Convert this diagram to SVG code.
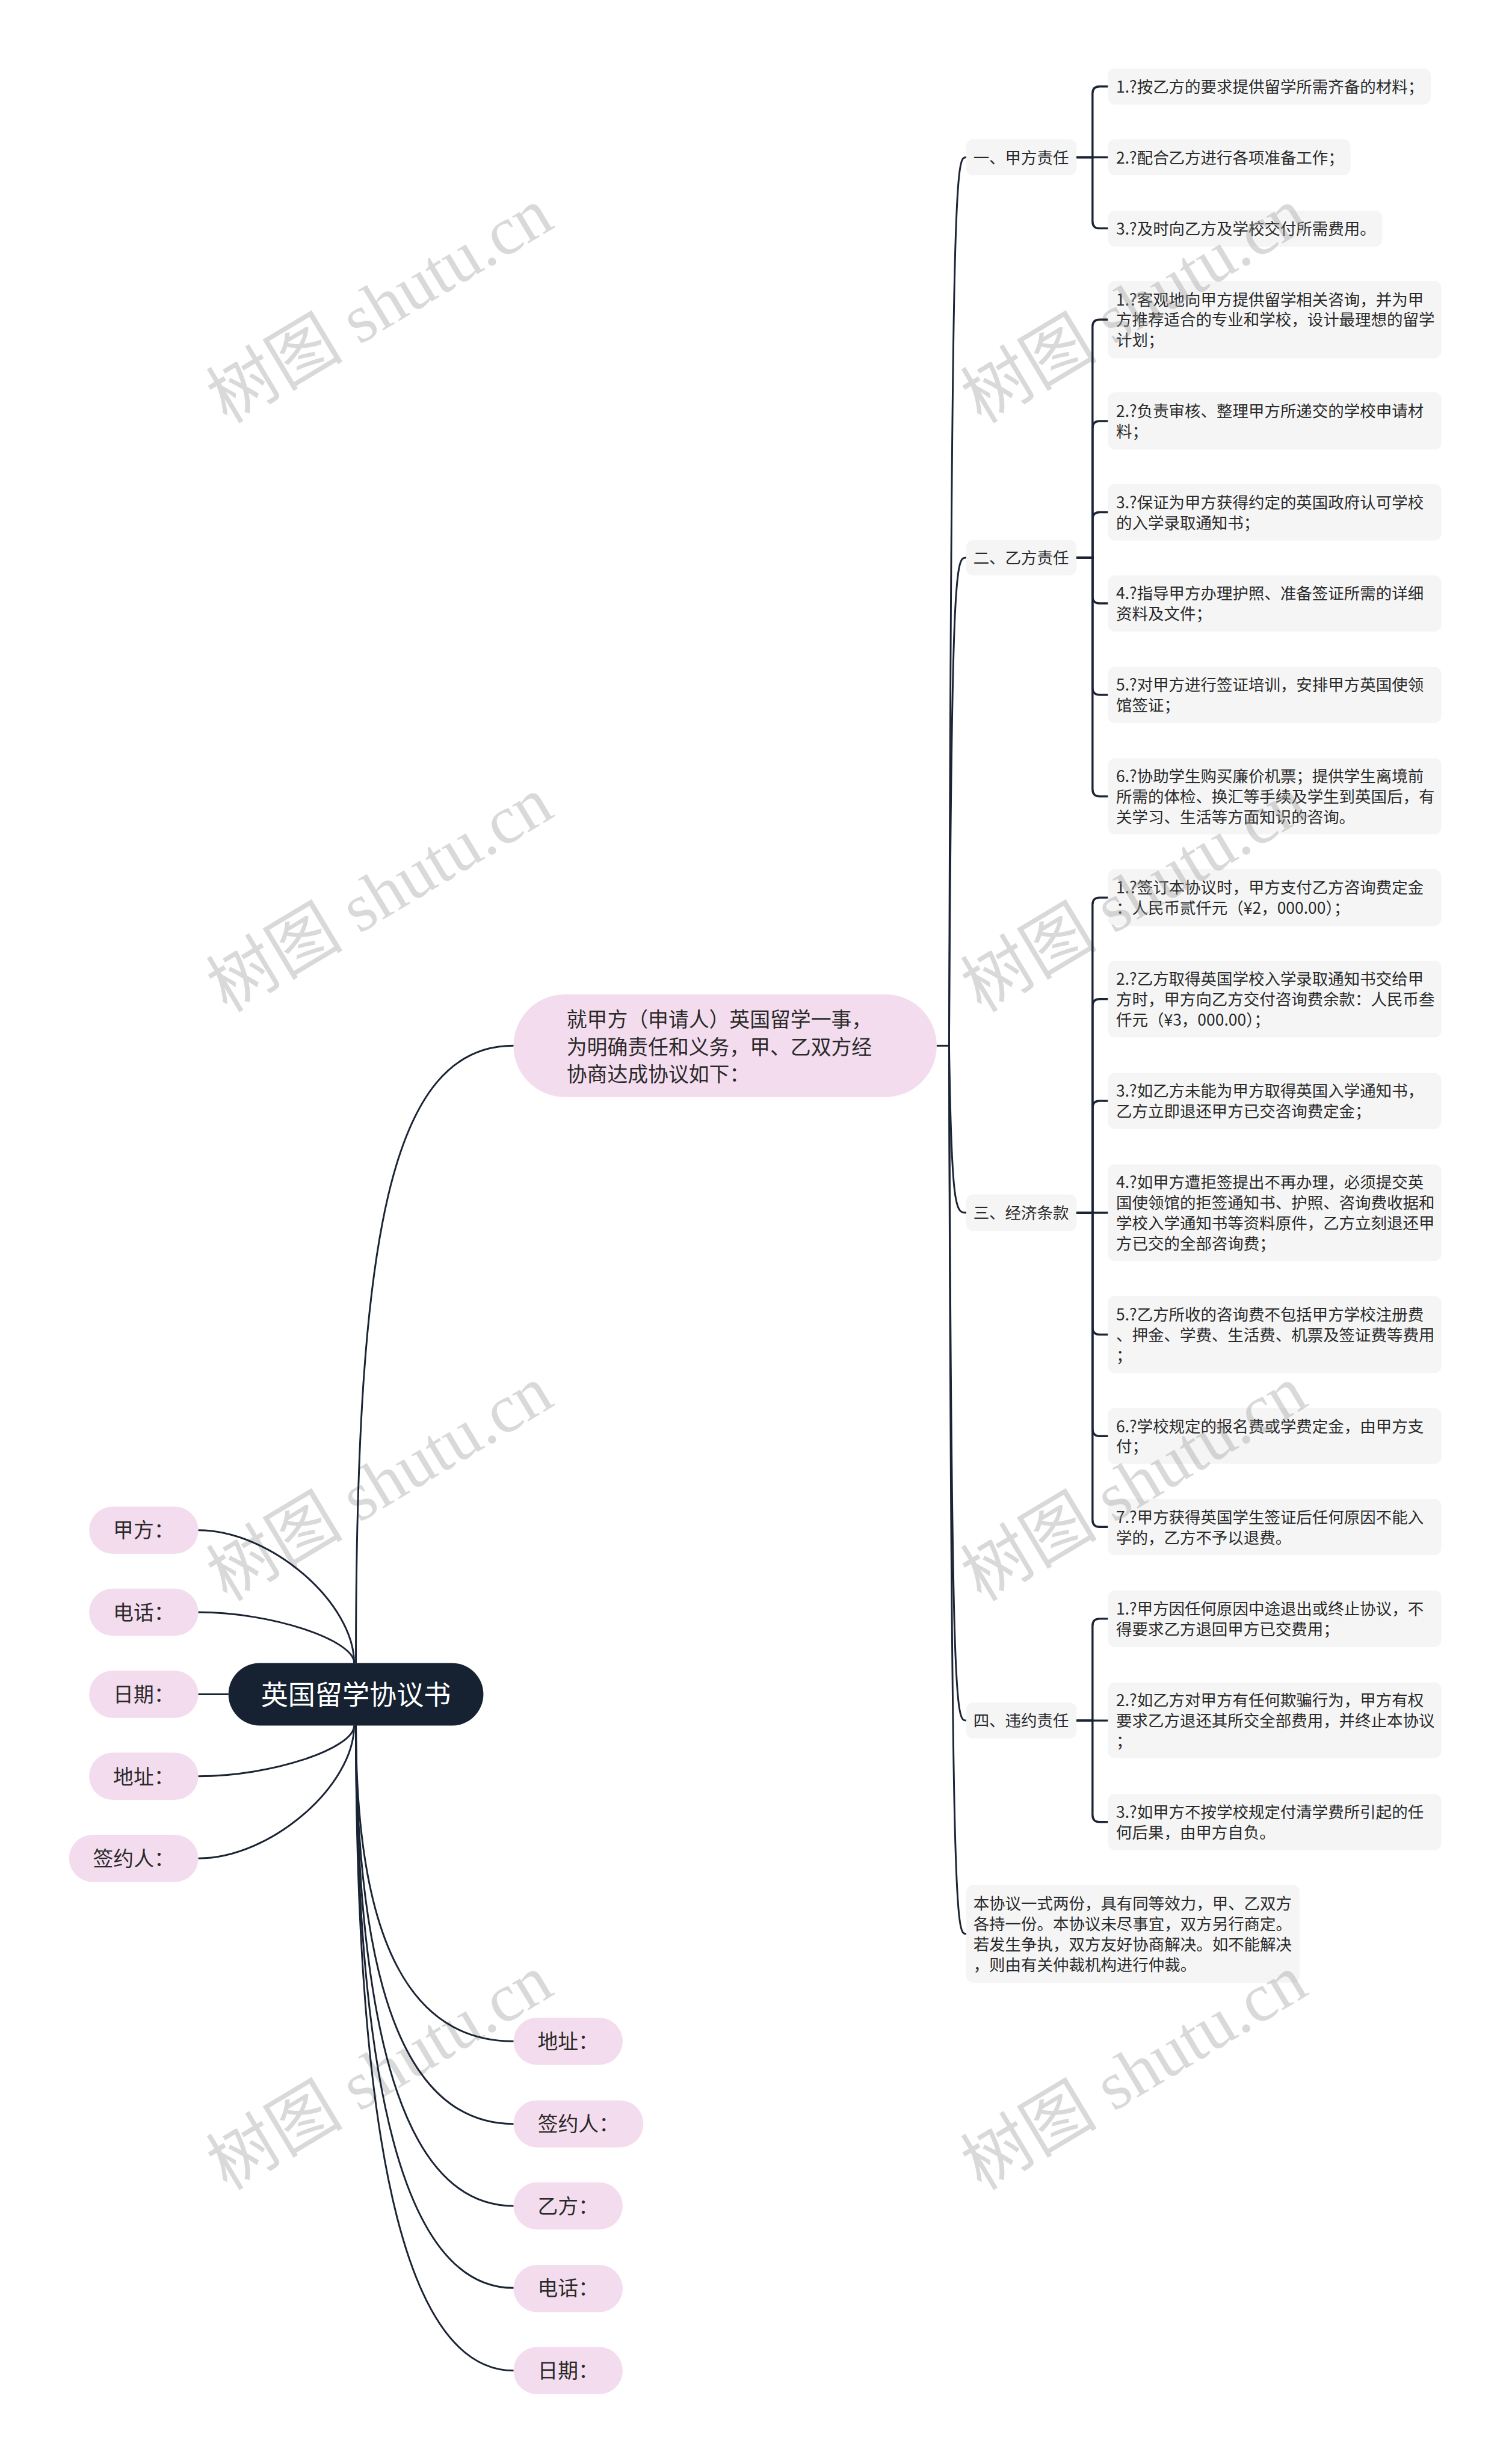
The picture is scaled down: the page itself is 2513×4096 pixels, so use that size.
<svg xmlns="http://www.w3.org/2000/svg" width="2513" height="4096" viewBox="0 0 2513 4096">
<style>
.ln{fill:none;stroke:#1b2434;stroke-width:3}
.br{fill:none;stroke:#1b2434;stroke-width:3.5}
.g{fill:#f5f5f5}
.pk{fill:#f4dcef}
.t{font-family:"Noto Sans CJK SC","Noto Sans",sans-serif;fill:#2a2a2a}
.s27{font-size:27px}
.s33{font-size:34.5px}
.root{font-family:"Noto Sans CJK SC","Noto Sans",sans-serif;font-size:46px;fill:#ffffff}
.wm{font-family:"Liberation Serif","Noto Sans CJK SC",serif;font-size:116px;fill:#9a9a9a;fill-opacity:0.38}
</style>
<rect width="2513" height="4096" fill="#ffffff"/>
<g transform="scale(0.981)">
<g id="nodes">
<g id="root"><rect x="387" y="2818" width="432" height="106" rx="53" fill="#162231"/><text class="root" x="603" y="2888.5" text-anchor="middle">英国留学协议书</text></g>
<g id="n-intro"><rect class="pk" x="870" y="1685" width="717" height="174" rx="87"/><text class="t s33" x="960"><tspan x="960" y="1740">就甲方（申请人）英国留学一事，</tspan><tspan x="960" y="1786.5">为明确责任和义务，甲、乙双方经</tspan><tspan x="960" y="1833">协商达成协议如下：</tspan></text></g>
<g id="l-jiafang"><rect class="pk" x="151" y="2553" width="185" height="80" rx="40"/><text class="t s33" x="243.5" y="2606" text-anchor="middle">甲方：</text></g>
<g id="l-dianhua"><rect class="pk" x="151" y="2692" width="185" height="80" rx="40"/><text class="t s33" x="243.5" y="2745" text-anchor="middle">电话：</text></g>
<g id="l-riqi"><rect class="pk" x="151" y="2831" width="185" height="80" rx="40"/><text class="t s33" x="243.5" y="2884" text-anchor="middle">日期：</text></g>
<g id="l-dizhi"><rect class="pk" x="151" y="2970" width="185" height="80" rx="40"/><text class="t s33" x="243.5" y="3023" text-anchor="middle">地址：</text></g>
<g id="l-qianyue"><rect class="pk" x="117" y="3109" width="219" height="80" rx="40"/><text class="t s33" x="226.5" y="3162" text-anchor="middle">签约人：</text></g>
<g id="r-dizhi"><rect class="pk" x="870" y="3419" width="185" height="80" rx="40"/><text class="t s33" x="962.5" y="3472" text-anchor="middle">地址：</text></g>
<g id="r-qianyue"><rect class="pk" x="870" y="3559" width="220" height="80" rx="40"/><text class="t s33" x="980" y="3612" text-anchor="middle">签约人：</text></g>
<g id="r-yifang"><rect class="pk" x="870" y="3698" width="185" height="80" rx="40"/><text class="t s33" x="962.5" y="3751" text-anchor="middle">乙方：</text></g>
<g id="r-dianhua"><rect class="pk" x="870" y="3838" width="185" height="80" rx="40"/><text class="t s33" x="962.5" y="3890" text-anchor="middle">电话：</text></g>
<g id="r-riqi"><rect class="pk" x="870" y="3977" width="185" height="80" rx="40"/><text class="t s33" x="962.5" y="4030" text-anchor="middle">日期：</text></g>

<g id="s1"><rect class="g" x="1637" y="236" width="187" height="61" rx="12"/><text class="t s27" x="1649" y="277">一、甲方责任</text></g>
<g id="s1-1"><rect class="g" x="1877" y="116" width="547" height="61" rx="12"/><text class="t s27" x="1891" y="157">1.?按乙方的要求提供留学所需齐备的材料；</text></g>
<g id="s1-2"><rect class="g" x="1877" y="236" width="411" height="61" rx="12"/><text class="t s27" x="1891" y="277">2.?配合乙方进行各项准备工作；</text></g>
<g id="s1-3"><rect class="g" x="1877" y="357" width="465" height="61" rx="12"/><text class="t s27" x="1891" y="398">3.?及时向乙方及学校交付所需费用。</text></g>

<g id="s2"><rect class="g" x="1637" y="915" width="187" height="60" rx="12"/><text class="t s27" x="1649" y="955.5">二、乙方责任</text></g>
<g id="s2-1"><rect class="g" x="1877" y="476" width="565" height="131" rx="12"/><text class="t s27"><tspan x="1891" y="517.5">1.?客观地向甲方提供留学相关咨询，并为甲</tspan><tspan x="1891" y="552">方推荐适合的专业和学校，设计最理想的留学</tspan><tspan x="1891" y="586.5">计划；</tspan></text></g>
<g id="s2-2"><rect class="g" x="1877" y="665" width="565" height="97" rx="12"/><text class="t s27"><tspan x="1891" y="706.75">2.?负责审核、整理甲方所递交的学校申请材</tspan><tspan x="1891" y="741.25">料；</tspan></text></g>
<g id="s2-3"><rect class="g" x="1877" y="820" width="565" height="96" rx="12"/><text class="t s27"><tspan x="1891" y="861.25">3.?保证为甲方获得约定的英国政府认可学校</tspan><tspan x="1891" y="895.75">的入学录取通知书；</tspan></text></g>
<g id="s2-4"><rect class="g" x="1877" y="975" width="565" height="95" rx="12"/><text class="t s27"><tspan x="1891" y="1015.75">4.?指导甲方办理护照、准备签证所需的详细</tspan><tspan x="1891" y="1050.25">资料及文件；</tspan></text></g>
<g id="s2-5"><rect class="g" x="1877" y="1130" width="565" height="95" rx="12"/><text class="t s27"><tspan x="1891" y="1170.75">5.?对甲方进行签证培训，安排甲方英国使领</tspan><tspan x="1891" y="1205.25">馆签证；</tspan></text></g>
<g id="s2-6"><rect class="g" x="1877" y="1285" width="565" height="129" rx="12"/><text class="t s27"><tspan x="1891" y="1325.5">6.?协助学生购买廉价机票；提供学生离境前</tspan><tspan x="1891" y="1360">所需的体检、换汇等手续及学生到英国后，有</tspan><tspan x="1891" y="1394.5">关学习、生活等方面知识的咨询。</tspan></text></g>

<g id="s3"><rect class="g" x="1637" y="2024" width="187" height="62" rx="12"/><text class="t s27" x="1649" y="2065.5">三、经济条款</text></g>
<g id="s3-1"><rect class="g" x="1877" y="1473" width="565" height="96" rx="12"/><text class="t s27"><tspan x="1891" y="1514.25">1.?签订本协议时，甲方支付乙方咨询费定金</tspan><tspan x="1891" y="1548.75">：人民币贰仟元（¥2，000.00）；</tspan></text></g>
<g id="s3-2"><rect class="g" x="1877" y="1628" width="565" height="130" rx="12"/><text class="t s27"><tspan x="1891" y="1669">2.?乙方取得英国学校入学录取通知书交给甲</tspan><tspan x="1891" y="1703.5">方时，甲方向乙方交付咨询费余款：人民币叁</tspan><tspan x="1891" y="1738">仟元（¥3，000.00）；</tspan></text></g>
<g id="s3-3"><rect class="g" x="1877" y="1818" width="565" height="95" rx="12"/><text class="t s27"><tspan x="1891" y="1858.75">3.?如乙方未能为甲方取得英国入学通知书，</tspan><tspan x="1891" y="1893.25">乙方立即退还甲方已交咨询费定金；</tspan></text></g>
<g id="s3-4"><rect class="g" x="1877" y="1973" width="565" height="164" rx="12"/><text class="t s27"><tspan x="1891" y="2013.75">4.?如甲方遭拒签提出不再办理，必须提交英</tspan><tspan x="1891" y="2048.25">国使领馆的拒签通知书、护照、咨询费收据和</tspan><tspan x="1891" y="2082.75">学校入学通知书等资料原件，乙方立刻退还甲</tspan><tspan x="1891" y="2117.25">方已交的全部咨询费；</tspan></text></g>
<g id="s3-5"><rect class="g" x="1877" y="2196" width="565" height="131" rx="12"/><text class="t s27"><tspan x="1891" y="2237.5">5.?乙方所收的咨询费不包括甲方学校注册费</tspan><tspan x="1891" y="2272">、押金、学费、生活费、机票及签证费等费用</tspan><tspan x="1891" y="2306.5">；</tspan></text></g>
<g id="s3-6"><rect class="g" x="1877" y="2386" width="565" height="95" rx="12"/><text class="t s27"><tspan x="1891" y="2426.75">6.?学校规定的报名费或学费定金，由甲方支</tspan><tspan x="1891" y="2461.25">付；</tspan></text></g>
<g id="s3-7"><rect class="g" x="1877" y="2540" width="565" height="95" rx="12"/><text class="t s27"><tspan x="1891" y="2580.75">7.?甲方获得英国学生签证后任何原因不能入</tspan><tspan x="1891" y="2615.25">学的，乙方不予以退费。</tspan></text></g>

<g id="s4"><rect class="g" x="1637" y="2885" width="187" height="61" rx="12"/><text class="t s27" x="1649" y="2926">四、违约责任</text></g>
<g id="s4-1"><rect class="g" x="1877" y="2695" width="565" height="96" rx="12"/><text class="t s27"><tspan x="1891" y="2736.25">1.?甲方因任何原因中途退出或终止协议，不</tspan><tspan x="1891" y="2770.75">得要求乙方退回甲方已交费用；</tspan></text></g>
<g id="s4-2"><rect class="g" x="1877" y="2851" width="565" height="128" rx="12"/><text class="t s27"><tspan x="1891" y="2891">2.?如乙方对甲方有任何欺骗行为，甲方有权</tspan><tspan x="1891" y="2925.5">要求乙方退还其所交全部费用，并终止本协议</tspan><tspan x="1891" y="2960">；</tspan></text></g>
<g id="s4-3"><rect class="g" x="1877" y="3040" width="565" height="95" rx="12"/><text class="t s27"><tspan x="1891" y="3080.75">3.?如甲方不按学校规定付清学费所引起的任</tspan><tspan x="1891" y="3115.25">何后果，由甲方自负。</tspan></text></g>

<g id="s5"><rect class="g" x="1637" y="3194" width="565" height="166" rx="12"/><text class="t s27"><tspan x="1649" y="3235.75">本协议一式两份，具有同等效力，甲、乙双方</tspan><tspan x="1649" y="3270.25">各持一份。本协议未尽事宜，双方另行商定。</tspan><tspan x="1649" y="3304.75">若发生争执，双方友好协商解决。如不能解决</tspan><tspan x="1649" y="3339.25">，则由有关仲裁机构进行仲裁。</tspan></text></g>
</g>

<g id="watermark">
<text class="wm" transform="translate(644 519) rotate(-31)" text-anchor="middle" y="38">树图 shutu.cn</text>
<text class="wm" transform="translate(1922 519) rotate(-31)" text-anchor="middle" y="38">树图 shutu.cn</text>
<text class="wm" transform="translate(644 1517) rotate(-31)" text-anchor="middle" y="38">树图 shutu.cn</text>
<text class="wm" transform="translate(1922 1517) rotate(-31)" text-anchor="middle" y="38">树图 shutu.cn</text>
<text class="wm" transform="translate(644 2515) rotate(-31)" text-anchor="middle" y="38">树图 shutu.cn</text>
<text class="wm" transform="translate(1922 2515) rotate(-31)" text-anchor="middle" y="38">树图 shutu.cn</text>
<text class="wm" transform="translate(644 3513) rotate(-31)" text-anchor="middle" y="38">树图 shutu.cn</text>
<text class="wm" transform="translate(1922 3513) rotate(-31)" text-anchor="middle" y="38">树图 shutu.cn</text>
</g>

<g id="connectors">
<path class="ln" d="M603 2818 C603 2100 660 1772 870 1772"/>
<path class="ln" d="M600 2818 C600 2717 460 2593 336 2593"/>
<path class="ln" d="M600 2818 C600 2779 460 2732 336 2732"/>
<path class="ln" d="M387 2871 H336"/>
<path class="ln" d="M600 2924 C600 2963 460 3010 336 3010"/>
<path class="ln" d="M600 2924 C600 3025 460 3149 336 3149"/>
<path class="ln" d="M603 2924 C603 3298.5 700 3459 870 3459"/>
<path class="ln" d="M603 2924 C603 3396.5 700 3599 870 3599"/>
<path class="ln" d="M603 2924 C603 3493.8 700 3738 870 3738"/>
<path class="ln" d="M603 2924 C603 3591.1 700 3877 870 3877"/>
<path class="ln" d="M603 2924 C603 3689.1 700 4017 870 4017"/>

<path class="ln" d="M1587 1772 H1608"/>
<path class="ln" d="M1608 1772 C1612 266.5 1620 266.5 1637 266.5"/>
<path class="ln" d="M1608 1772 C1612 945 1620 945 1637 945"/>
<path class="ln" d="M1608 1772 C1612 2055 1620 2055 1637 2055"/>
<path class="ln" d="M1608 1772 C1612 2915.5 1620 2915.5 1637 2915.5"/>
<path class="ln" d="M1608 1772 C1612 3277 1620 3277 1637 3277"/>

<path class="br" d="M1824 266.5 H1851 V158.5 Q1851 146.5 1863 146.5 H1877"/>
<path class="br" d="M1824 266.5 H1877"/>
<path class="br" d="M1824 266.5 H1851 V375 Q1851 387 1863 387 H1877"/>

<path class="br" d="M1824 945 H1851 V553.5 Q1851 541.5 1863 541.5 H1877"/>
<path class="br" d="M1824 945 H1851 V725.5 Q1851 713.5 1863 713.5 H1877"/>
<path class="br" d="M1824 945 H1851 V880 Q1851 868 1863 868 H1877"/>
<path class="br" d="M1824 945 H1851 V1010.5 Q1851 1022.5 1863 1022.5 H1877"/>
<path class="br" d="M1824 945 H1851 V1165.5 Q1851 1177.5 1863 1177.5 H1877"/>
<path class="br" d="M1824 945 H1851 V1337.5 Q1851 1349.5 1863 1349.5 H1877"/>

<path class="br" d="M1824 2055 H1851 V1533 Q1851 1521 1863 1521 H1877"/>
<path class="br" d="M1824 2055 H1851 V1705 Q1851 1693 1863 1693 H1877"/>
<path class="br" d="M1824 2055 H1851 V1877.5 Q1851 1865.5 1863 1865.5 H1877"/>
<path class="br" d="M1824 2055 H1877"/>
<path class="br" d="M1824 2055 H1851 V2249.5 Q1851 2261.5 1863 2261.5 H1877"/>
<path class="br" d="M1824 2055 H1851 V2421.5 Q1851 2433.5 1863 2433.5 H1877"/>
<path class="br" d="M1824 2055 H1851 V2575.5 Q1851 2587.5 1863 2587.5 H1877"/>

<path class="br" d="M1824 2915.5 H1851 V2755 Q1851 2743 1863 2743 H1877"/>
<path class="br" d="M1824 2915.5 H1877"/>
<path class="br" d="M1824 2915.5 H1851 V3075.5 Q1851 3087.5 1863 3087.5 H1877"/>
</g>
</g>
</svg>
